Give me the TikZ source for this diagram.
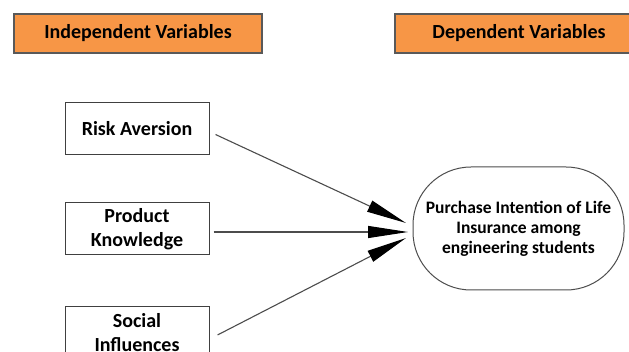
\documentclass[tikz,border=0pt]{standalone}
\usepackage{fontspec}
\setmainfont{Carlito}
\usetikzlibrary{arrows.meta}
\definecolor{hdrorange}{HTML}{F79646}

\begin{document}
\begin{tikzpicture}[x=1pt, y=-1pt,
  hdr/.style={draw=black!65, line width=1.4pt, fill=hdrorange, minimum width=248pt, minimum height=39pt, font=\fontsize{20}{24}\selectfont\bfseries},
  var/.style={draw=black!75, line width=1pt, minimum width=144pt, minimum height=52pt, align=center, font=\fontsize{20}{24}\selectfont\bfseries},
  dvbox/.style={draw=black!70, line width=1pt, rounded corners=58pt, minimum width=211pt, minimum height=123pt, align=center, font=\fontsize{17.5}{20}\selectfont\bfseries},
  link/.style={draw=black!70, line width=1.1pt, -{Triangle[length=40pt,width=12pt,black]}}]
  \useasboundingbox (0,0) rectangle (629,352);
  \node[hdr] (indep) at (138,33.5) {Independent Variables};
  \node[hdr] (dep) at (519,33.5) {Dependent Variables};
  \node[var] (risk) at (137,128.5) {Risk Aversion};
  \node[var] (prod) at (137,229) {Product\\Knowledge};
  \node[var] (social) at (137,333) {Social\\Influences};
  \node[dvbox] (intent) at (518.5,228.5) {Purchase Intention of Life\\Insurance among\\engineering students};
  \coordinate (tipa) at (406,223);
  \coordinate (tipb) at (408,232);
  \coordinate (tipc) at (406,238);
  \path
  ([xshift=6pt,yshift=-6pt]risk.east) edge[link] (tipa)
  ([xshift=4pt,yshift=-3pt]prod.east) edge[link] (tipb)
  ([xshift=8pt,yshift=-2pt]social.east) edge[link] (tipc)
  ;
\end{tikzpicture}
\end{document}
